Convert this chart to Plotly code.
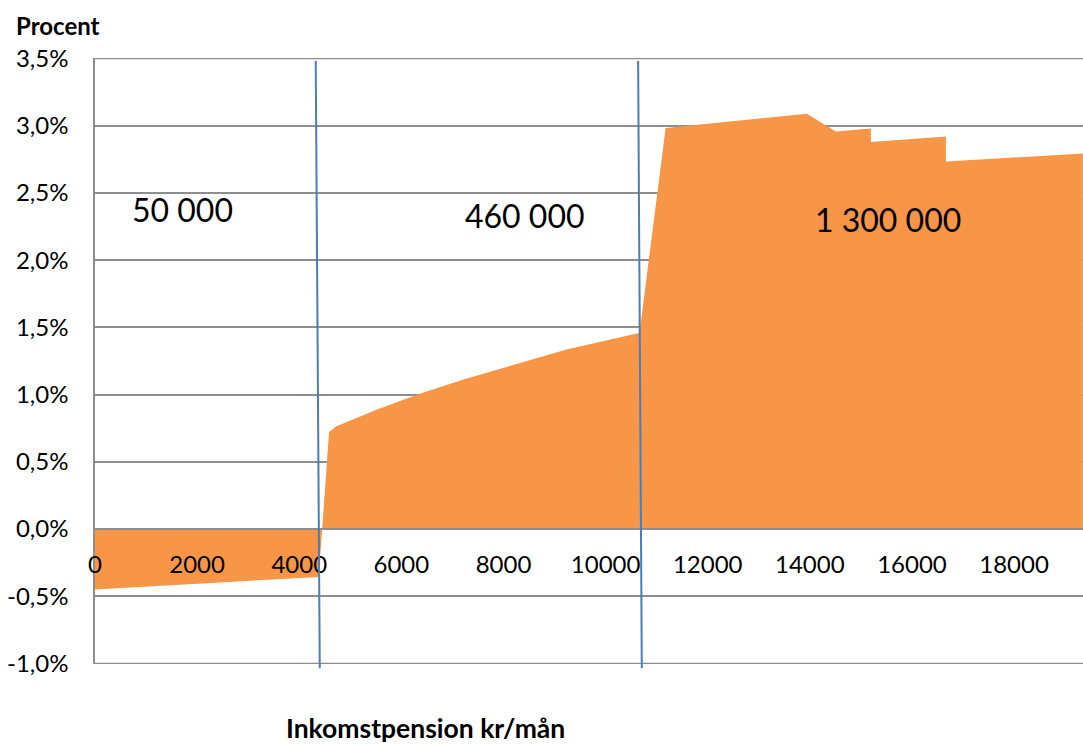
import plotly.graph_objects as go

# ---- data ----
income = [0, 4382, 4584, 4729, 5500, 6361, 7200, 7992, 9234, 10656, 10690,
          11176, 11982, 13941, 14509, 15195, 15196, 16664, 16665, 19348]
pct = [-0.449, -0.357, 0.722, 0.764, 0.885, 1.007, 1.110, 1.200, 1.336, 1.458, 1.537,
       2.984, 3.014, 3.089, 2.957, 2.979, 2.880, 2.920, 2.734, 2.794]

x_ticks = [0, 2000, 4000, 6000, 8000, 10000, 12000, 14000, 16000, 18000]
x_ticktext = [str(v) for v in x_ticks]
y_ticks = [-1.0, -0.5, 0.0, 0.5, 1.0, 1.5, 2.0, 2.5, 3.0, 3.5]
y_ticktext = ["-1,0%", "-0,5%", "0,0%", "0,5%", "1,0%", "1,5%", "2,0%", "2,5%", "3,0%", "3,5%"]

# wealth boundaries (vertical separators), top and bottom x
boundary_top_x = [4323, 10637]
boundary_bottom_x = [4402, 10709]

region_labels = ["50 000", "460 000", "1 300 000"]
region_label_x = [1714, 8425, 15534]
region_label_y = [2.375, 2.333, 2.306]

X_RANGE = [0, 19350]
Y_RANGE = [-1.004, 3.504]

FONT = "Lato"
GRID = "#8E8E8E"
ORANGE = "#F79646"
BLUE = "#4A7EBB"

fig = go.Figure()
fig.add_trace(go.Scatter(
    x=income, y=pct, mode="lines", line=dict(width=0, color=ORANGE),
    fill="tozeroy", fillcolor=ORANGE, hoverinfo="skip", showlegend=False,
))

# outer gridlines (plotly drops gridlines at the range edges)
for gy in (y_ticks[0], y_ticks[-1]):
    fig.add_shape(type="line", xref="paper", yref="y", x0=0, x1=1, y0=gy, y1=gy,
                  line=dict(color=GRID, width=1.5), layer="below")

for xt, xb in zip(boundary_top_x, boundary_bottom_x):
    fig.add_shape(type="line", xref="x", yref="paper",
                  x0=xt, y0=0.995, x1=xb, y1=-0.0071,
                  line=dict(color=BLUE, width=2), layer="above")

for t, lx, ly in zip(region_labels, region_label_x, region_label_y):
    fig.add_annotation(x=lx, y=ly, xref="x", yref="y", text=t, showarrow=False,
                       font=dict(family=FONT, size=32, color="#000000"))

fig.add_annotation(x=-0.082, y=1.054, xref="paper", yref="paper", text="<b>Procent</b>",
                   showarrow=False, xanchor="left", yanchor="middle",
                   font=dict(family=FONT, size=24, color="#000000"))
fig.add_annotation(x=(425 - 95) / 988, y=-0.106, xref="paper", yref="paper",
                   text="<b>Inkomstpension kr/mån</b>", showarrow=False,
                   xanchor="center", yanchor="middle",
                   font=dict(family=FONT, size=26.5, color="#000000"))

zero_pos = (0 - Y_RANGE[0]) / (Y_RANGE[1] - Y_RANGE[0])

fig.update_layout(
    width=1083, height=745,
    margin=dict(l=95, r=0, t=58, b=81),
    paper_bgcolor="white", plot_bgcolor="white",
    font=dict(family=FONT, color="#000000"),
    showlegend=False,
    xaxis=dict(range=X_RANGE, anchor="free", position=zero_pos,
               tickvals=x_ticks, ticktext=x_ticktext, showgrid=False, zeroline=False,
               showline=True, linecolor=GRID, linewidth=1.5, ticks="",
               ticklabelstandoff=14,
               tickfont=dict(family=FONT, size=24, color="#000000")),
    yaxis=dict(range=Y_RANGE, tickvals=y_ticks, ticktext=y_ticktext,
               showgrid=True, gridcolor=GRID, gridwidth=1.5, zeroline=False,
               showline=True, linecolor=GRID, linewidth=1.5, ticks="",
               ticklabelstandoff=20,
               tickfont=dict(family=FONT, size=24, color="#000000")),
)

fig.write_html("out.html", config={"displayModeBar": False},
               post_script="document.body.style.margin='0';")
